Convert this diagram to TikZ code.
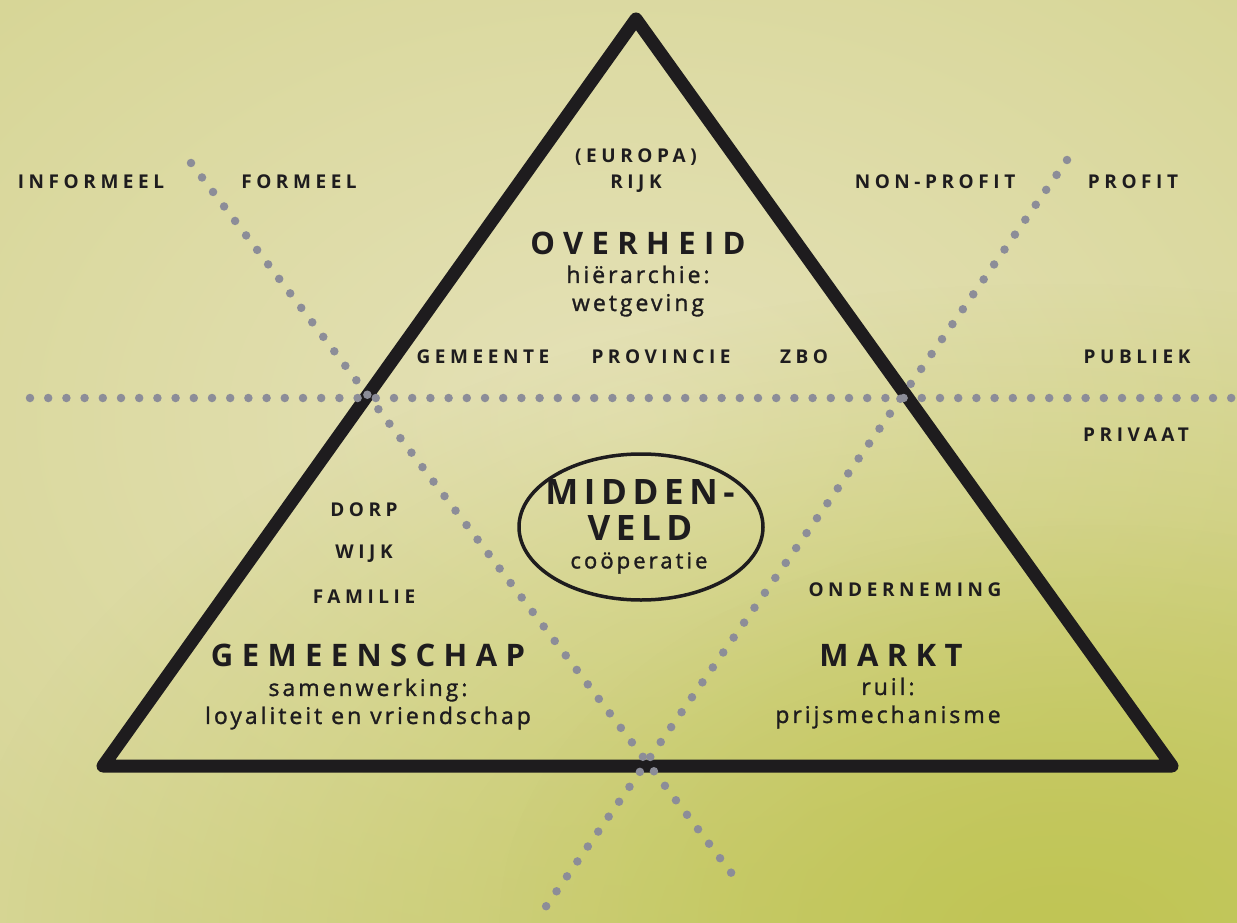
\documentclass[tikz,border=0pt]{standalone}
\usepackage{fontspec}
\setmainfont{Open Sans}
\setsansfont{Open Sans}
\newfontfamily\subfont[FakeBold=1.3]{Open Sans}
\usetikzlibrary{shapes.geometric,fadings}
\tikzfading[name=glow, inner color=transparent!0, outer color=transparent!100]
\definecolor{bgA}{RGB}{215,214,150}
\definecolor{bgB}{RGB}{231,227,188}
\definecolor{bgC}{RGB}{192,197,84}
\definecolor{dotgray}{RGB}{140,141,152}
\definecolor{ink}{RGB}{30,28,30}
\newcommand{\spc}[1]{\addfontfeatures{LetterSpace=#1}}
\tikzset{
  lbl/.style={font=\fontsize{19}{21}\selectfont\bfseries\spc{24}, text=ink, inner sep=0pt},
  big/.style={font=\fontsize{31}{33}\selectfont\bfseries\spc{27}, text=ink, inner sep=0pt},
  sub/.style={font=\fontsize{23}{28}\subfont\spc{13}, text=ink, inner sep=0pt, align=center},
  dotline/.style={draw=dotgray, line width=8.5pt, line cap=round, dash pattern=on 0pt off 18.2pt},
  tri/.style={draw=ink, line width=13pt, line join=round}
}
\begin{document}
\begin{tikzpicture}[x=1pt,y=-1pt]
\useasboundingbox (0,0) rectangle (1237,923);
% background
\fill[bgA] (0,0) rectangle (1237,923);
\fill[bgB, path fading=glow, fit fading=true, opacity=0.9] (630,420) ellipse (900 and 620);
\fill[bgC, path fading=glow, fit fading=true] (1060,940) ellipse (1100 and 660);
\fill[bgC, path fading=glow, fit fading=true, opacity=0.5] (1100,923) ellipse (600 and 400);
% triangle
\coordinate (apex) at (636,19);
\coordinate (bl) at (103,766);
\coordinate (br) at (1172,766);
\draw[tri] (apex) -- (br) -- (bl) -- cycle;
% dotted lines
\coordinate (h1) at (30,398);
\coordinate (h2) at (1237,398);
\coordinate (d1a) at (191,163);
\coordinate (d1b) at (742,887);
\coordinate (d2a) at (1067,160);
\coordinate (d2b) at (540,915);
\draw[dotline] (h1) -- (h2);
\draw[dotline] (d1a) -- (d1b);
\draw[dotline] (d2a) -- (d2b);
% top labels
\node[lbl] (informeel) at (91,182) {INFORMEEL};
\node[lbl] (formeel) at (299,182) {FORMEEL};
\node[lbl] (nonprofit) at (935,182) {NON-PROFIT};
\node[lbl] (profit) at (1133,182) {PROFIT};
\node[lbl] (europa) at (636,157) {(EUROPA)};
\node[lbl] (rijk) at (636,184) {RIJK};
\node[big] (overheid) at (638,243) {OVERHEID};
\node[sub] (hier) at (638,291) {hiërarchie:\\wetgeving};
\node[lbl] (gemeente) at (483,357) {GEMEENTE};
\node[lbl] (provincie) at (661,357) {PROVINCIE};
\node[lbl] (zbo) at (804,357) {ZBO};
\node[lbl] (publiek) at (1137,357) {PUBLIEK};
\node[lbl] (privaat) at (1136,435) {PRIVAAT};
% middenveld
\node[draw=ink, line width=3.5pt, ellipse, minimum width=244pt, minimum height=146pt] (mv) at (641,527) {};
\node[font=\fontsize{35}{36}\selectfont\bfseries\spc{16}, text=ink, align=center, inner sep=0pt] (midden) at (640,510) {MIDDEN-\\VELD};
\node[font=\fontsize{22}{24}\subfont\spc{14}, text=ink, inner sep=0pt] (coop) at (639,563) {coöperatie};
% gemeenschap
\node[lbl] (dorp) at (364,510) {DORP};
\node[lbl] (wijk) at (364,554) {WIJK};
\node[lbl] (familie) at (364,597) {FAMILIE};
\node[big] (gemeenschap) at (368,655) {GEMEENSCHAP};
\node[sub] (samen) at (368,704) {samenwerking:\\loyaliteit en vriendschap};
% markt
\node[lbl] (onderneming) at (905,590) {ONDERNEMING};
\node[big] (markt) at (891,655) {MARKT};
\node[sub] (ruil) at (888,703) {ruil:\\prijsmechanisme};
\end{tikzpicture}
\end{document}
